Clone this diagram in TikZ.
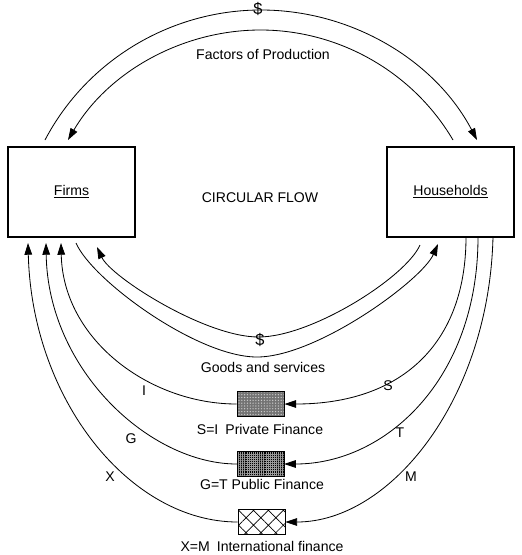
\documentclass[tikz,border=0pt]{standalone}
\usepackage{fontspec}
\setmainfont{Liberation Sans}
\usetikzlibrary{arrows.meta,patterns.meta}

\begin{document}
\begin{tikzpicture}[x=0.03cm, y=-0.03cm,
  every node/.style={font=\fontsize{12}{14}\selectfont},
  sector/.style={shape=rectangle, draw=black, line width=0.9pt, minimum width=3.81cm, minimum height=2.7cm, inner sep=0pt},
  fund/.style={shape=rectangle, draw=black, line width=0.8pt, minimum width=1.41cm, minimum height=0.75cm, inner sep=0pt},
  flow/.style={line width=0.7pt, -{Triangle[length=10pt, width=6.5pt]}},
  cash/.style={font=\fontsize{14}{16}\selectfont}]
\useasboundingbox (0,0) rectangle (521,555);

% the two sectors
\node[sector] (F) at (71.5,192) {\raisebox{-3pt}{\underline{Firms}}\hspace{14pt}};
\node[sector] (H) at (450.5,192) {\raisebox{3pt}{\underline{Households}}};
\node (cf) at (260,198) {CIRCULAR FLOW};

% finance boxes
\node[fund, preaction={fill=black!55}, pattern={Dots[distance=2.4pt, radius=0.6pt]}, pattern color=white!80!black] (PF) at (260.5,404) {};
\node[fund, preaction={fill=black}, pattern={Hatch[angle=0, distance=1.8pt, line width=0.3pt]}, pattern color=black!40] (GF) at (260.5,464) {};
\node[fund, pattern={Hatch[angle=45, distance=9pt, line width=0.6pt]}, pattern color=black] (XF) at (261.5,522) {};

% free ends near the sectors
\coordinate (fpL) at (45,140);
\coordinate (fpR) at (477,140);
\coordinate (fiR) at (453,140);
\coordinate (fiL) at (68,140);
\coordinate (gsL) at (76,243);
\coordinate (gsR) at (438,244);
\coordinate (mnR) at (420,245);
\coordinate (mnL) at (97,247);
\coordinate (hS) at (466,237);
\coordinate (hT) at (478,237);
\coordinate (hM) at (493,237);
\coordinate (fI) at (61,243);
\coordinate (fG) at (46,243);
\coordinate (fX) at (28,243);

% factors of production
\draw[flow] (fpL) .. controls (87,60) and (171,10) .. (261,10) .. controls (351,10) and (435,60) .. (fpR);
\draw[flow] (fiR) .. controls (413,72) and (339,30) .. (260.5,30) .. controls (182,30) and (108,72) .. (fiL);
\node[cash] (d1) at (258,9) {\$};
\node (fop) at (263,54) {Factors of Production};

% goods and services
\draw[flow] (gsL) .. controls (92,280) and (197,357) .. (257,357) .. controls (317,357) and (422,280) .. (gsR);
\draw[flow] (mnR) .. controls (406,277) and (312,337) .. (258.5,337) .. controls (205,337) and (111,277) .. (mnL);
\node[cash] (d2) at (260,340) {\$};
\node (gs) at (263,367) {Goods and services};

% leakages and injections
\draw[flow] (hS) .. controls (466,345) and (400,404) .. (PF.east);
\draw[flow] (PF.west) .. controls (150,404) and (63,340) .. (fI);
\draw[flow] (hT) .. controls (478,380) and (385,464) .. (GF.east);
\draw[flow] (GF.west) .. controls (150,464) and (48,370) .. (fG);
\draw[flow] (hM) .. controls (489,400) and (390,522) .. (XF.east);
\draw[flow] (XF.west) .. controls (130,522) and (32,400) .. (fX);

\node (lS) at (388,386) {S};
\node (lI) at (144,391) {I};
\node (lT) at (400,433) {T};
\node (lG) at (131,439) {G};
\node (lM) at (411,477) {M};
\node (lX) at (110,477) {X};
\node (pf) at (260,429) {S=I\enspace Private Finance};
\node (gf) at (262,484) {G=T Public Finance};
\node (xf) at (262,546) {X=M\enspace International finance};
\end{tikzpicture}
\end{document}
